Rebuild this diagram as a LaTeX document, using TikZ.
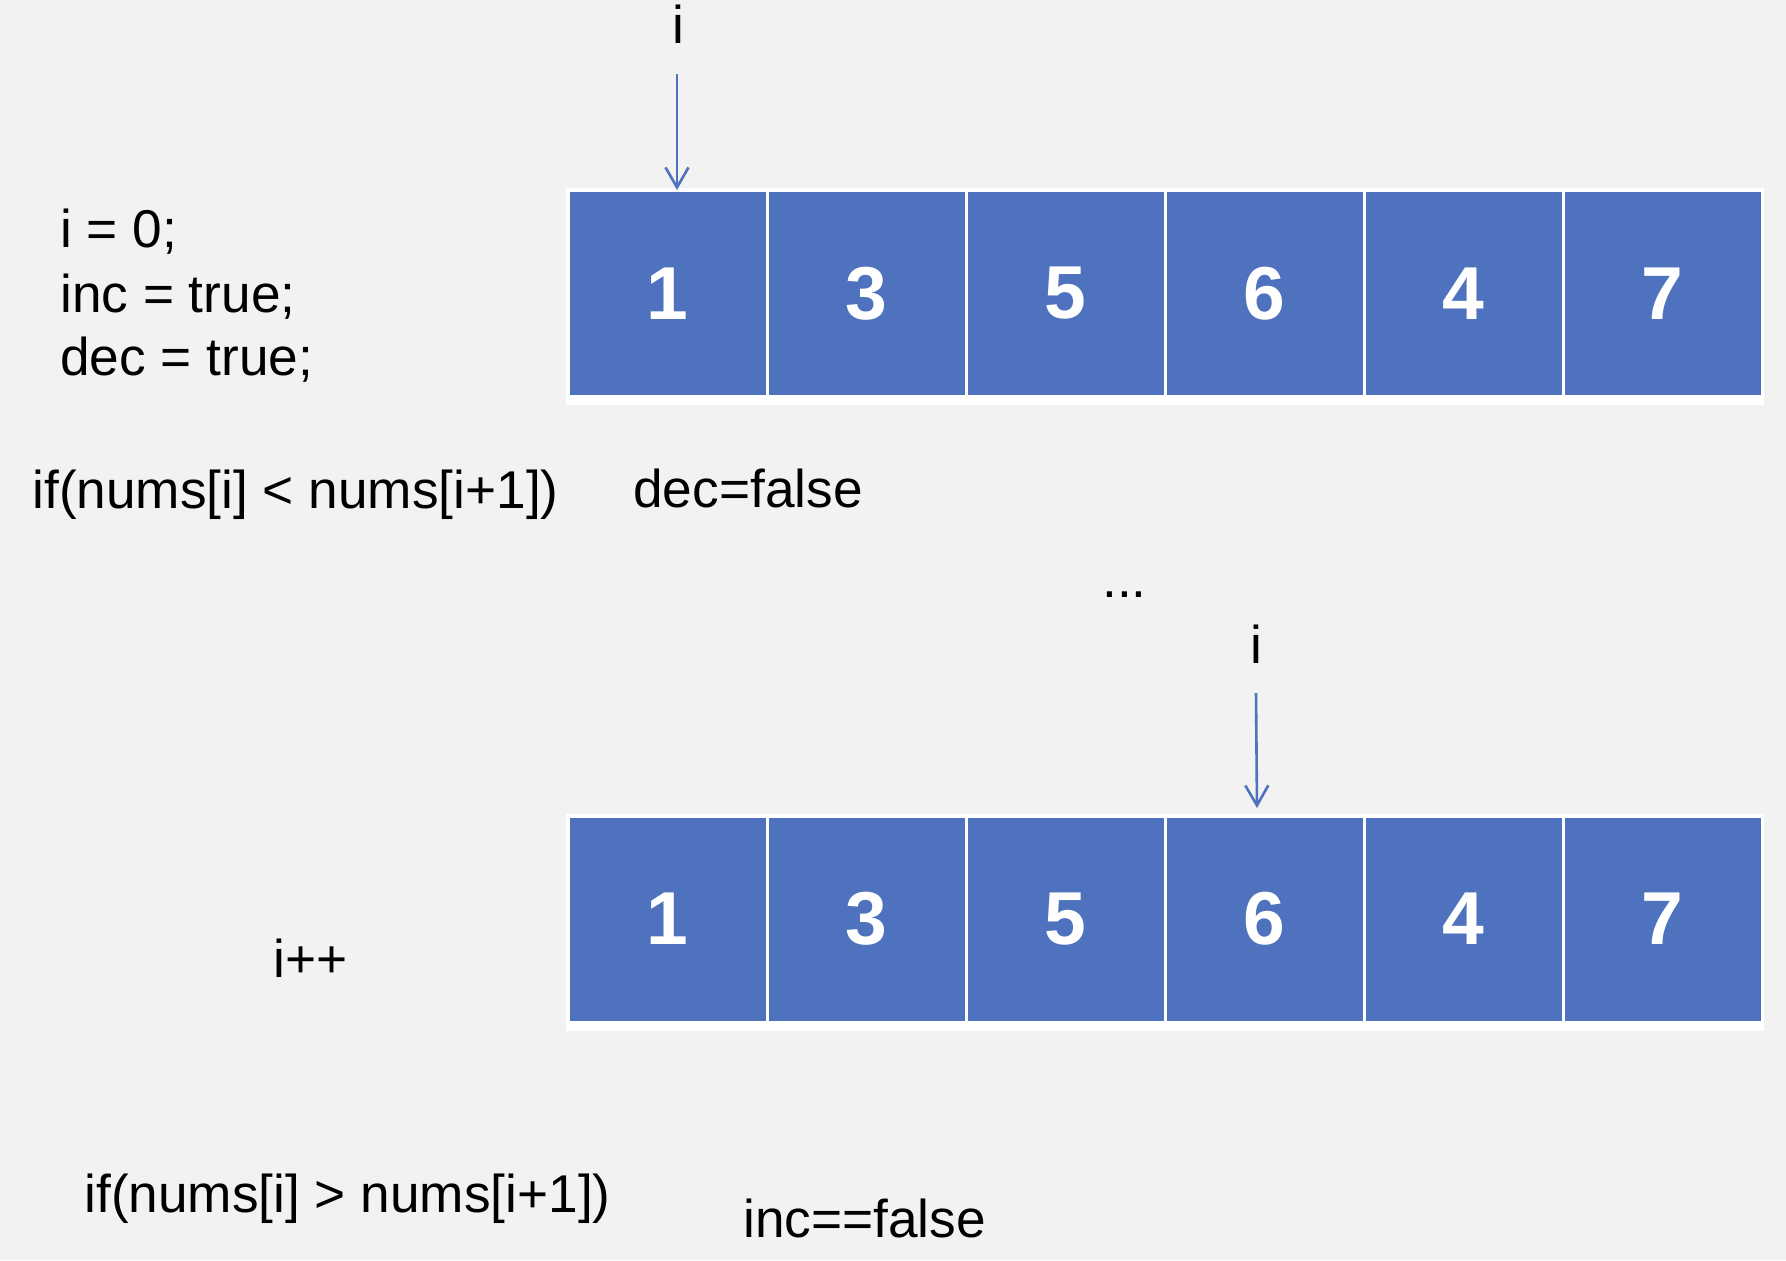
\documentclass[tikz,border=0pt]{standalone}
\usepackage{fontspec}
\setmainfont{Liberation Sans}
\usetikzlibrary{arrows.meta}
\definecolor{bg}{HTML}{F2F2F2}
\definecolor{cellblue}{HTML}{4F72BE}
\begin{document}
\begin{tikzpicture}[x=0.5pt,y=-0.5pt,
  txt/.style={inner sep=0pt,anchor=base west,font=\fontsize{26.6}{31}\selectfont,text=black},
  idx/.style={inner sep=0pt,anchor=base,font=\fontsize{26.6}{31}\selectfont,text=black},
  cell/.style={draw=white,line width=1.5pt,fill=cellblue,minimum width=99.5pt,minimum height=103pt,inner sep=0pt,text=white,font=\fontsize{37.5}{40}\selectfont\bfseries},
  ptr/.style={draw=cellblue,line width=1.3pt,-{Straight Barb[length=10pt,width=11.5pt,line width=1.3pt]}},
  backing/.style={fill=white,draw=none}
]
\useasboundingbox[fill=bg] (0,0) rectangle (1786,1260);

% backing strips
\path[backing] (566,188) rectangle (1764,405);
\path[backing] (566,814) rectangle (1764,1031);

% cells
\foreach \v [count=\k from 0] in {1,3,5,6,4,7}{
  \pgfmathsetmacro{\cx}{667.5+199*\k}
  \node[cell] (a\v) at (\cx,293.5) {\v};
  \node[cell] (b\v) at (\cx,919) {\v};
}

% pointer labels and arrows
\node[idx] (itop) at (678,43) {i};
\coordinate (itopS) at (677,74);
\coordinate (itopE) at (677,190);
\draw[ptr] (itopS) -- (itopE);

\node[idx] (ibot) at (1256,663) {i};
\coordinate (ibotS) at (1256,693);
\coordinate (ibotE) at (1257,808);
\draw[ptr] (ibotS) -- (ibotE);

% texts
\node[txt] (l1) at (60,247) {i = 0;};
\node[txt] (l2) at (60,312) {inc = true;};
\node[txt] (l3) at (60,375) {dec = true;};
\node[txt] (cond1) at (32,508) {if(nums[i] < nums[i+1])};
\node[txt] (dec) at (633,507) {dec=false};
\node[txt] (dots) at (1102,597) {...};
\node[txt] (inc) at (273,977) {i++};
\node[txt] (cond2) at (84,1212) {if(nums[i] > nums[i+1])};
\node[txt] (incf) at (743,1237) {inc==false};
\end{tikzpicture}
\end{document}
